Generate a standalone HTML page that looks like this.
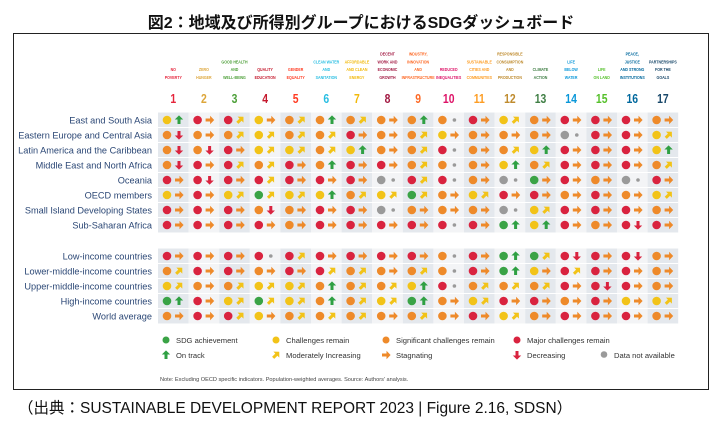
<!DOCTYPE html>
<html><head><meta charset="utf-8"><style>
body{margin:0;background:#fff;width:722px;height:425px;overflow:hidden;font-family:"Liberation Sans","Noto Sans CJK JP",sans-serif}
</style></head><body>
<svg id="c" width="722" height="425" xmlns="http://www.w3.org/2000/svg">
<text x="361" y="28" text-anchor="middle" font-size="16" font-weight="bold" fill="#111" font-family="Liberation Sans, Noto Sans CJK JP, sans-serif">図2：地域及び所得別グループにおけるSDGダッシュボード</text>
<rect x="13.5" y="33.5" width="695" height="356" fill="none" stroke="#222" stroke-width="1"/>
<text x="18" y="413" font-size="15.5" fill="#111" font-family="Liberation Sans, Noto Sans CJK JP, sans-serif">（出典：SUSTAINABLE DEVELOPMENT REPORT 2023 | Figure 2.16, SDSN）</text>
<g id="g"></g>
</svg>
<script>
const sdgLabels=[["NO","POVERTY"],["ZERO","HUNGER"],["GOOD HEALTH","AND","WELL-BEING"],["QUALITY","EDUCATION"],["GENDER","EQUALITY"],["CLEAN WATER","AND","SANITATION"],["AFFORDABLE","AND CLEAN","ENERGY"],["DECENT","WORK AND","ECONOMIC","GROWTH"],["INDUSTRY,","INNOVATION","AND","INFRASTRUCTURE"],["REDUCED","INEQUALITIES"],["SUSTAINABLE","CITIES AND","COMMUNITIES"],["RESPONSIBLE","CONSUMPTION","AND","PRODUCTION"],["CLIMATE","ACTION"],["LIFE","BELOW","WATER"],["LIFE","ON LAND"],["PEACE,","JUSTICE","AND STRONG","INSTITUTIONS"],["PARTNERSHIPS","FOR THE","GOALS"]];
const sdgColors=["#e5243b","#dda63a","#4c9f38","#c5192d","#ff3a21","#26bde2","#f2b90b","#a21942","#fd6925","#dd1367","#fd9d24","#bf8b2e","#3f7e44","#0a97d9","#56c02b","#00689d","#19486a"];
const regionNames=["East and South Asia","Eastern Europe and Central Asia","Latin America and the Caribbean","Middle East and North Africa","Oceania","OECD members","Small Island Developing States","Sub-Saharan Africa"];
const regionData=[
"YU RS RM YS OM OU OM OS OU On RS YM OS RS RS RS OS",
"OD OS OM YM OM OM RS OS OM YS OS OS OS Nn RS RS YM",
"OD OD RS YM YM OM YU OS OM Rn OS OM YU RS RS RS YU",
"OD RS RM OM RS OU RS RS OM On OS YU OM RS RS RS OM",
"RS RD RS RM RS RS RS Nn RM Rn OS Nn GS RS OS Nn RS",
"YS RS YM GM YM YU OM YM GM OS YM RS RS OS RS OS YM",
"RS RS RS OD OS RS RS Nn OS OS OS Nn YM RS RS RS OS",
"RS RS RS RS OS RS RS RS RS Rn RS GU YU RS OS RD RS"];
const incomeNames=["Low-income countries","Lower-middle-income countries","Upper-middle-income countries","High-income countries","World average"];
const incomeData=[
"RS RS RS Rn RM RS RS RS RS On RS GU GM RD RS RD OS",
"OM RS RS OS RS RM OM OS OM On RS GU YS RM RS RS OS",
"YM OS OM YM YM OU OM OM YU Rn OM OM OM RS RD RS OS",
"GU RS YM GM YM OU OM YM GU OS YM RS RS OS RS YS YM",
"OS RS RM YS OM OM OM OS OM OS RS YM OS RS RS RS OS"];
const dotColor={G:"#3aa346",Y:"#f2c318",O:"#ee8a2a",R:"#d9233f",N:"#9a9a9a"};
const trendColor={U:"#2fa043",M:"#f2c318",S:"#ee8a2a",D:"#d9233f"};
const trendAngle={U:-90,M:-45,S:0,D:90};
const NS="http://www.w3.org/2000/svg";
const g=document.getElementById('g');
const x0=158,cw=30.6,rh=15;
const colX=i=>x0+i*cw;
function mk(t,a,p){const e=document.createElementNS(NS,t);for(const k in a)e.setAttribute(k,a[k]);(p||g).appendChild(e);return e;}
sdgLabels.forEach((lines,i)=>{
  const cx=colX(i)+cw/2;
  const t=mk('text',{x:cx,y:0,'text-anchor':'middle','font-size':4.6,'font-weight':'bold',fill:sdgColors[i],transform:`translate(${cx},0) scale(0.78,1) translate(${-cx},0)`});
  
  
  lines.forEach((l,j)=>{const s=mk('tspan',{x:cx,y:79-(lines.length-1-j)*7.8},t);s.textContent=l;});
  const n=mk('text',{x:cx,y:103,'text-anchor':'middle','font-size':13,'font-weight':'bold',fill:sdgColors[i],transform:`translate(${cx},103) scale(0.8,1) translate(${-cx},-103)`});
  
  
  n.textContent=i+1;
});
function arrow(cx,cy,ang,col,p){
  return mk('path',{d:"M-4,-1.5 L0.5,-1.5 L0.5,-4.2 L4.6,0 L0.5,4.2 L0.5,1.5 L-4,1.5 Z",fill:col,transform:`translate(${cx},${cy}) rotate(${ang})`},p);
}
function block(names,data,yTop,gname){
  const grp=mk('g',{});
  
  
  for(let i=0;i<17;i++){
    const r=mk('rect',{x:colX(i),y:yTop,width:cw,height:names.length*rh,fill:i%2==0?'#e4e8ed':'#f3f4f6'},grp);
    
    
  }
  names.forEach((nm,ri)=>{
    const cy=yTop+ri*rh+rh/2;
    if(ri>0){const l=mk('line',{x1:x0,x2:colX(17),y1:yTop+ri*rh,y2:yTop+ri*rh,stroke:'#fff','stroke-width':1},grp);
      }
    const t=mk('text',{x:152,y:cy+3.3,'text-anchor':'end','font-size':9.2,fill:'#2b4775'},grp);
    
    
    t.textContent=nm;
    data[ri].split(' ').forEach((cd,ci)=>{
      const cx=colX(ci);
      const d=mk('circle',{cx:cx+9,cy:cy,r:4.3,fill:dotColor[cd[0]]},grp);
      
      
      if(cd[1]==='n'){
        const s=mk('circle',{cx:cx+21,cy:cy,r:1.8,fill:'#9a9a9a'},grp);
        
        
      }else{
        const a=arrow(cx+21,cy,trendAngle[cd[1]],trendColor[cd[1]],grp);
        
        
      }
    });
  });
}
block(regionNames,regionData,112.5,'region-rows');
block(incomeNames,incomeData,248.5,'income-rows');
const legendDots=[["#3aa346","SDG achievement",163],["#f2c318","Challenges remain",273],["#ee8a2a","Significant challenges remain",383],["#d9233f","Major challenges remain",514]];
const legendTrends=[["U","On track",163],["M","Moderately Increasing",273],["S","Stagnating",383],["D","Decreasing",514]];
legendDots.forEach(([c,l,x])=>{
  const d=mk('circle',{cx:x+3,cy:340,r:3.5,fill:c});
  
  
  const t=mk('text',{x:x+13,y:343,'font-size':7.6,fill:'#333'});
  
  
  t.textContent=l;
});
legendTrends.forEach(([k,l,x])=>{
  const a=arrow(x+3,355,trendAngle[k],trendColor[k]);
  
  
  const t=mk('text',{x:x+13,y:358,'font-size':7.6,fill:'#333'});
  
  
  t.textContent=l;
});
const nd=mk('circle',{cx:604,cy:354.5,r:3.3,fill:'#9a9a9a'});


const nt=mk('text',{x:614,y:358,'font-size':7.6,fill:'#333'});


nt.textContent='Data not available';
const note=mk('text',{x:160,y:381,'font-size':5.6,fill:'#444'});


note.textContent="Note: Excluding OECD specific indicators. Population-weighted averages.    Source: Authors' analysis.";
</script>
</body></html>
